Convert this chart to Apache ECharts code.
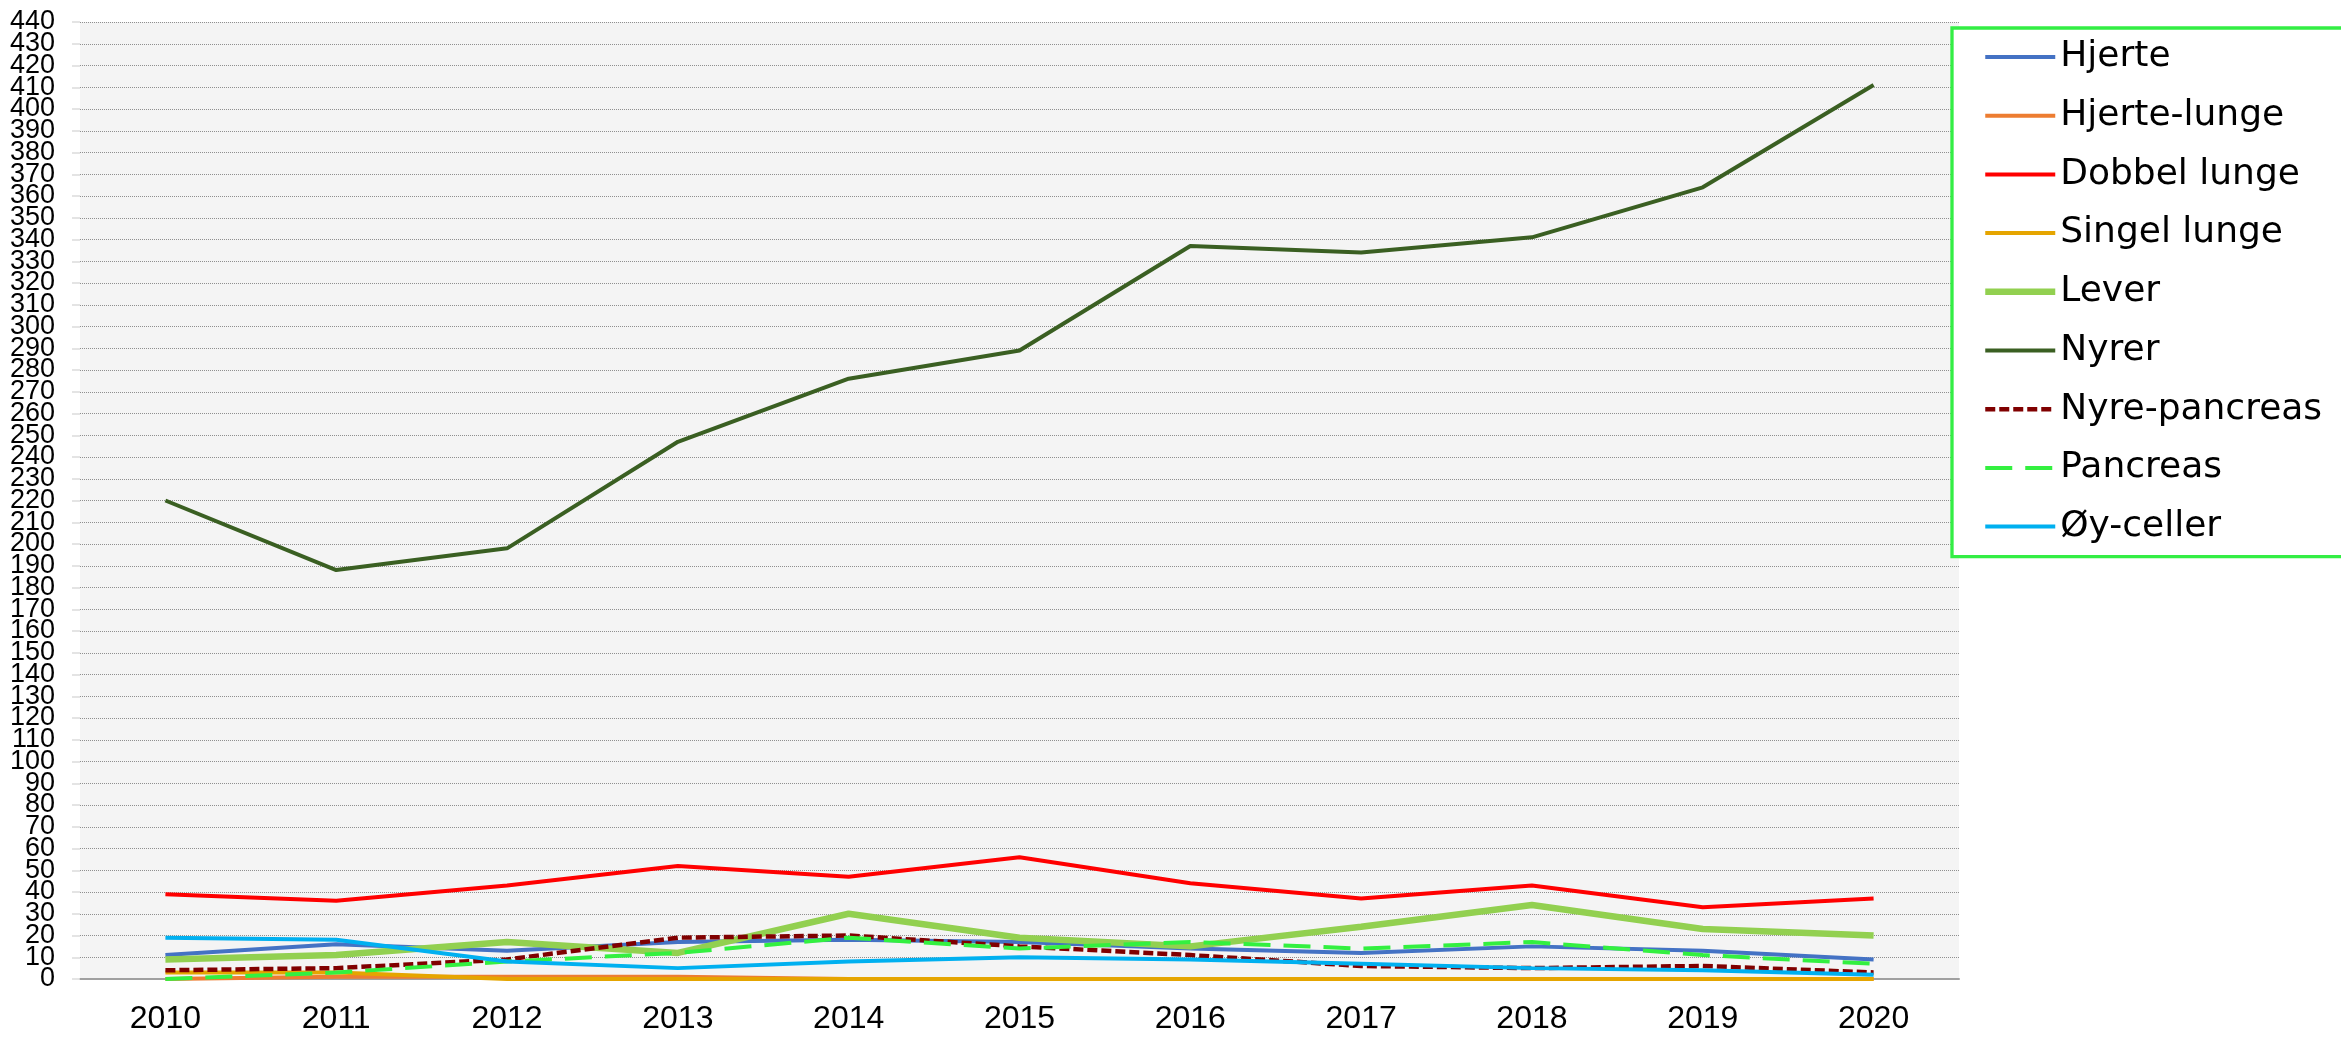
<html>
<head>
<script src="https://cdn.jsdelivr.net/npm/echarts@6/dist/echarts.min.js"></script>
<style>
  html, body { margin: 0; padding: 0; background: #fff; }
  #container { width: 2341px; height: 1038px; }
</style>
</head>
<body>
<div id="container"></div>
<script>
const years = ['2010', '2011', '2012', '2013', '2014', '2015', '2016', '2017', '2018', '2019', '2020'];

const hjerte       = [11, 16, 13, 17, 18, 17, 14, 12, 15, 13, 9];
const hjerteLunge  = [0, 1, 1, 1, 0, 0, 0, 0, 0, 0, 0];
const dobbelLunge  = [39, 36, 43, 52, 47, 56, 44, 37, 43, 33, 37];
const singelLunge  = [3, 3, 0, 0, 0, 0, 0, 0, 0, 0, 0];
const lever        = [9, 11, 17, 12, 30, 19, 15, 24, 34, 23, 20];
const nyrer        = [220, 188, 198, 247, 276, 289, 337, 334, 341, 364, 411];
const nyrePancreas = [4, 5, 9, 19, 20, 15, 11, 6, 5, 6, 3];
const pancreas     = [0, 3, 8, 12, 19, 14, 17, 14, 17, 11, 7];
const oyCeller     = [19, 18, 8, 5, 8, 10, 9, 7, 5, 4, 2];

// y tick labels, split in two sets so the tightly packed labels all show
const yLabelsEven = [0, 20, 40, 60, 80, 100, 120, 140, 160, 180, 200, 220, 240, 260, 280, 300, 320, 340, 360, 380, 400, 420, 440];
const yLabelsOdd  = [10, 30, 50, 70, 90, 110, 130, 150, 170, 190, 210, 230, 250, 270, 290, 310, 330, 350, 370, 390, 410, 430];

const axisFont = '"Liberation Sans", Arial, sans-serif';

function buildSeries(name, data, color, width, dash) {
        return {
                name,
                type: 'line',
                data,
                symbol: 'none',
                yAxisIndex: 0,
                lineStyle: {
                        color,
                        width,
                        type: dash || 'solid',
                        cap: 'butt'
                },
                itemStyle: { color }
        };
}

function labelStyle(values) {
        return {
                fontFamily: axisFont,
                fontSize: 27,
                color: '#000',
                margin: 25,
                customValues: values,
                showMinLabel: true,
                showMaxLabel: true
        };
}

let mychart = echarts.init(document.getElementById('container'));

var option = {
        animation: false,
        grid: {
                left: 80,
                right: 382,
                top: 22,
                bottom: 59,
                show: true,
                backgroundColor: '#f4f4f4',
                borderWidth: 0
        },
        legend: {
                orient: 'vertical',
                left: 1952,
                top: 28,
                padding: [9, 100, 10, 30],
                itemWidth: 70,
                itemHeight: 14,
                itemGap: 18.7,
                backgroundColor: '#ffffff',
                borderColor: '#33ee44',
                borderWidth: 3.3,
                itemStyle: { opacity: 0 },
                lineStyle: { width: 'inherit', type: 'inherit', cap: 'butt' },
                textStyle: {
                        fontFamily: '"DejaVu Sans", sans-serif',
                        fontSize: 36,
                        lineHeight: 40,
                        color: '#000'
                }
        },
        xAxis: {
                type: 'category',
                data: years,
                boundaryGap: true,
                axisLine: { lineStyle: { color: '#a0a0a0', width: 2 } },
                axisTick: { length: 10, lineStyle: { color: '#a0a0a0', width: 2 } },
                axisLabel: {
                        fontFamily: axisFont,
                        fontSize: 32,
                        color: '#000',
                        margin: 24
                },
                splitLine: { show: false }
        },
        yAxis: [
                {
                        type: 'value',
                        min: 0,
                        max: 440,
                        interval: 10,
                        axisLine: { show: false },
                        axisTick: { show: true, length: 8, lineStyle: { color: '#dcdcdc', width: 1.5 } },
                        axisLabel: labelStyle(yLabelsEven),
                        splitLine: { lineStyle: { color: '#8f8f8f', type: 'dotted', width: 1 } }
                },
                {
                        type: 'value',
                        position: 'left',
                        offset: 0,
                        min: 0,
                        max: 440,
                        interval: 10,
                        axisLine: { show: false },
                        axisTick: { show: false },
                        axisLabel: labelStyle(yLabelsOdd),
                        splitLine: { show: false }
                }
        ],
        series: [
                buildSeries('Hjerte', hjerte, '#4472C4', 4),
                buildSeries('Hjerte-lunge', hjerteLunge, '#ED7D31', 4),
                buildSeries('Dobbel lunge', dobbelLunge, '#FF0000', 4),
                buildSeries('Singel lunge', singelLunge, '#E5A500', 4),
                buildSeries('Lever', lever, '#92D050', 6.5),
                buildSeries('Nyrer', nyrer, '#3A5F22', 4),
                buildSeries('Nyre-pancreas', nyrePancreas, '#800000', 4.5, [10, 4]),
                buildSeries('Pancreas', pancreas, '#33F040', 4, [27, 13]),
                buildSeries('Øy-celler', oyCeller, '#00B0F0', 4)
        ]
};

mychart.setOption(option);
</script>
</body>
</html>
